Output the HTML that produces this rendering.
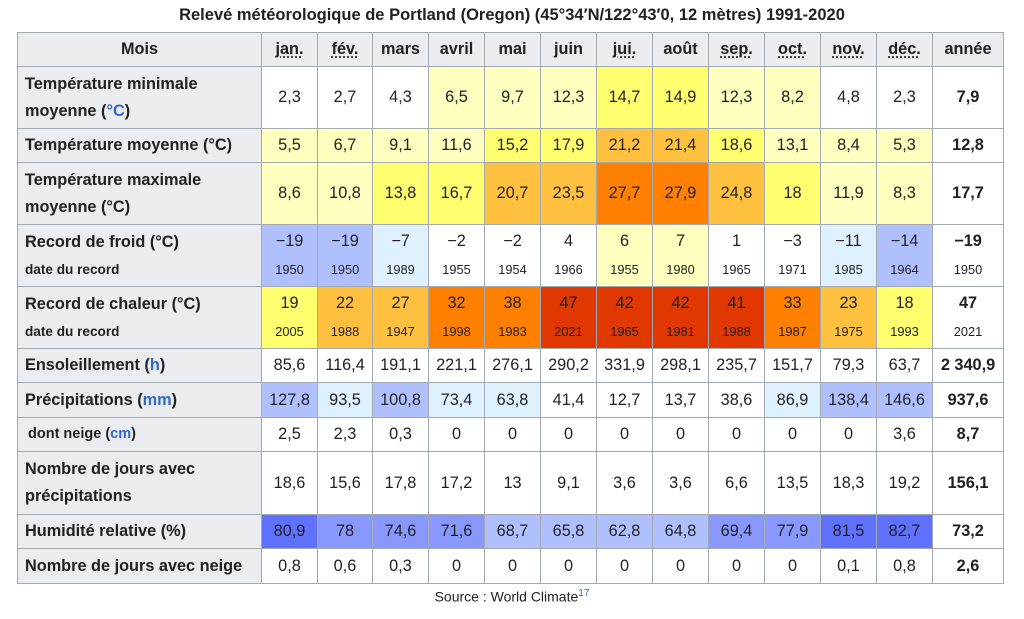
<!DOCTYPE html>
<html><head><meta charset="utf-8"><style>
body{margin:0;background:#fff;font-family:"Liberation Sans",Arial,sans-serif;color:#202122;width:1024px;height:619px;overflow:hidden}
.t{position:absolute;left:0;width:1024px;top:6px;text-align:center;font-weight:bold;font-size:16.5px}
table{position:absolute;left:17px;top:32px;border-collapse:collapse;table-layout:fixed;font-size:16.3px}
td,th{border:1px solid #a2a9b1;padding:0;text-align:center;vertical-align:middle;white-space:nowrap}
th{background:#eaecf0;font-weight:bold}
th.l{text-align:left;padding-left:7px;line-height:27px}
.hd th{text-align:center}
u{text-decoration:underline dotted;text-underline-offset:3px}
.s{font-size:12.8px}
th .s{font-size:13.6px}
.b{color:#3366cc}
td.y{font-weight:bold}
.W{background:#fff}.Y1{background:#ffffc0}.Y2{background:#ffff70}.O1{background:#ffc040}.O2{background:#ff8000}.R{background:#e03800}
.B0{background:#dff0ff}.B1{background:#b0c0ff}.B2{background:#8898ff}.B3{background:#6070ff}
.dd{line-height:28px}
.src{position:absolute;top:588px;left:0;width:1024px;text-align:center;font-size:14px}
sup{color:#3366cc;font-size:10px}
</style></head><body>
<div class="t">Relevé météorologique de Portland (Oregon) (45°34′N/122°43′0, 12 mètres) 1991-2020</div>
<table>
<colgroup><col style="width:244px"><col style="width:56px"><col style="width:55px"><col style="width:56px"><col style="width:56px"><col style="width:56px"><col style="width:56px"><col style="width:56px"><col style="width:56px"><col style="width:56px"><col style="width:56px"><col style="width:56px"><col style="width:56px"><col style="width:71px"></colgroup>
<tr class="hd" style="height:34px"><th>Mois</th><th><u>jan.</u></th><th><u>fév.</u></th><th>mars</th><th>avril</th><th>mai</th><th>juin</th><th><u>jui.</u></th><th>août</th><th><u>sep.</u></th><th><u>oct.</u></th><th><u>nov.</u></th><th><u>déc.</u></th><th>année</th></tr>
<tr style="height:62px"><th class="l">Température minimale<br>moyenne (<span class="b">°C</span>)</th><td class="W">2,3</td><td class="W">2,7</td><td class="W">4,3</td><td class="Y1">6,5</td><td class="Y1">9,7</td><td class="Y1">12,3</td><td class="Y2">14,7</td><td class="Y2">14,9</td><td class="Y1">12,3</td><td class="Y1">8,2</td><td class="W">4,8</td><td class="W">2,3</td><td class="y">7,9</td></tr>
<tr style="height:34px"><th class="l">Température moyenne (°C)</th><td class="Y1">5,5</td><td class="Y1">6,7</td><td class="Y1">9,1</td><td class="Y1">11,6</td><td class="Y2">15,2</td><td class="Y2">17,9</td><td class="O1">21,2</td><td class="O1">21,4</td><td class="Y2">18,6</td><td class="Y1">13,1</td><td class="Y1">8,4</td><td class="Y1">5,3</td><td class="y">12,8</td></tr>
<tr style="height:62px"><th class="l">Température maximale<br>moyenne (°C)</th><td class="Y1">8,6</td><td class="Y1">10,8</td><td class="Y2">13,8</td><td class="Y2">16,7</td><td class="O1">20,7</td><td class="O1">23,5</td><td class="O2">27,7</td><td class="O2">27,9</td><td class="O1">24,8</td><td class="Y2">18</td><td class="Y1">11,9</td><td class="Y1">8,3</td><td class="y">17,7</td></tr>
<tr style="height:62px"><th class="l">Record de froid (°C)<br><span class="s">date du record</span></th>
<td class="B1 dd">−19<br><span class="s">1950</span></td><td class="B1 dd">−19<br><span class="s">1950</span></td><td class="B0 dd">−7<br><span class="s">1989</span></td><td class="W dd">−2<br><span class="s">1955</span></td><td class="W dd">−2<br><span class="s">1954</span></td><td class="W dd">4<br><span class="s">1966</span></td><td class="Y1 dd">6<br><span class="s">1955</span></td><td class="Y1 dd">7<br><span class="s">1980</span></td><td class="W dd">1<br><span class="s">1965</span></td><td class="W dd">−3<br><span class="s">1971</span></td><td class="B0 dd">−11<br><span class="s">1985</span></td><td class="B1 dd">−14<br><span class="s">1964</span></td><td class="W dd"><b>−19</b><br><span class="s">1950</span></td></tr>
<tr style="height:62px"><th class="l">Record de chaleur (°C)<br><span class="s">date du record</span></th>
<td class="Y2 dd">19<br><span class="s">2005</span></td><td class="O1 dd">22<br><span class="s">1988</span></td><td class="O1 dd">27<br><span class="s">1947</span></td><td class="O2 dd">32<br><span class="s">1998</span></td><td class="O2 dd">38<br><span class="s">1983</span></td><td class="R dd">47<br><span class="s">2021</span></td><td class="R dd">42<br><span class="s">1965</span></td><td class="R dd">42<br><span class="s">1981</span></td><td class="R dd">41<br><span class="s">1988</span></td><td class="O2 dd">33<br><span class="s">1987</span></td><td class="O1 dd">23<br><span class="s">1975</span></td><td class="Y2 dd">18<br><span class="s">1993</span></td><td class="W dd"><b>47</b><br><span class="s">2021</span></td></tr>
<tr style="height:34px"><th class="l">Ensoleillement (<span class="b">h</span>)</th><td>85,6</td><td>116,4</td><td>191,1</td><td>221,1</td><td>276,1</td><td>290,2</td><td>331,9</td><td>298,1</td><td>235,7</td><td>151,7</td><td>79,3</td><td>63,7</td><td class="y">2 340,9</td></tr>
<tr style="height:35px"><th class="l">Précipitations (<span class="b">mm</span>)</th><td class="B1">127,8</td><td class="B0">93,5</td><td class="B1">100,8</td><td class="B0">73,4</td><td class="B0">63,8</td><td>41,4</td><td>12,7</td><td>13,7</td><td>38,6</td><td class="B0">86,9</td><td class="B1">138,4</td><td class="B1">146,6</td><td class="y">937,6</td></tr>
<tr style="height:34px"><th class="l" style="font-size:14.5px;padding-left:10px">dont neige (<span class="b">cm</span>)</th><td>2,5</td><td>2,3</td><td>0,3</td><td>0</td><td>0</td><td>0</td><td>0</td><td>0</td><td>0</td><td>0</td><td>0</td><td>3,6</td><td class="y">8,7</td></tr>
<tr style="height:63px"><th class="l">Nombre de jours avec<br>précipitations</th><td>18,6</td><td>15,6</td><td>17,8</td><td>17,2</td><td>13</td><td>9,1</td><td>3,6</td><td>3,6</td><td>6,6</td><td>13,5</td><td>18,3</td><td>19,2</td><td class="y">156,1</td></tr>
<tr style="height:34px"><th class="l">Humidité relative (%)</th><td class="B3">80,9</td><td class="B2">78</td><td class="B2">74,6</td><td class="B2">71,6</td><td class="B1">68,7</td><td class="B1">65,8</td><td class="B1">62,8</td><td class="B1">64,8</td><td class="B2">69,4</td><td class="B2">77,9</td><td class="B3">81,5</td><td class="B3">82,7</td><td class="y">73,2</td></tr>
<tr style="height:35px"><th class="l">Nombre de jours avec neige</th><td>0,8</td><td>0,6</td><td>0,3</td><td>0</td><td>0</td><td>0</td><td>0</td><td>0</td><td>0</td><td>0</td><td>0,1</td><td>0,8</td><td class="y">2,6</td></tr>
</table>
<div class="src">Source : World Climate<sup>17</sup></div>
</body></html>
